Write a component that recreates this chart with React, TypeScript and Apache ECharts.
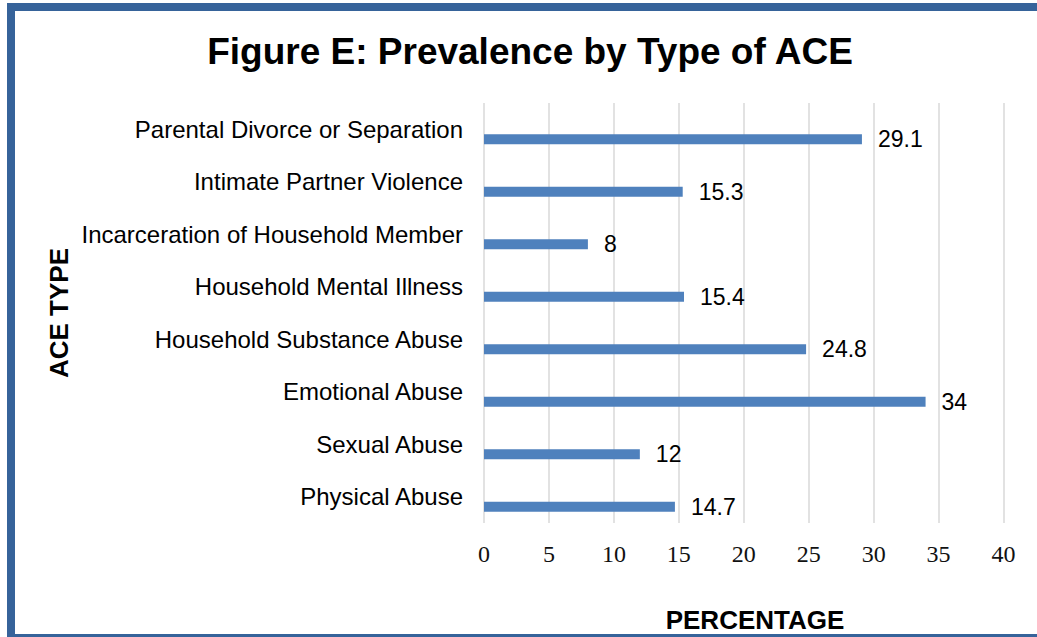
import React, { useEffect, useRef } from "react";
import * as echarts from "echarts";

const categories: string[] = [
  "Parental Divorce or Separation",
  "Intimate Partner Violence",
  "Incarceration of Household Member",
  "Household Mental Illness",
  "Household Substance Abuse",
  "Emotional Abuse",
  "Sexual Abuse",
  "Physical Abuse",
];
const values: number[] = [29.1, 15.3, 8, 15.4, 24.8, 34, 12, 14.7];
const xTicks = { min: 0, max: 40, interval: 5 };

const titleText = "Figure E: Prevalence by Type of ACE";
const xName = "PERCENTAGE";
const yName = "ACE TYPE";

const SANS = "'Liberation Sans', Arial, sans-serif";
const SERIF = "'Liberation Serif', 'Times New Roman', serif";

export default function App() {
  const ref = useRef<HTMLDivElement>(null);
  useEffect(() => {
    if (!ref.current) return;
    const chart = echarts.init(ref.current, undefined, { renderer: "svg" });
    chart.setOption({
      animation: false,
      backgroundColor: "#ffffff",
      title: {
        text: titleText,
        left: 525,
        top: 28,
        textAlign: "center",
        textStyle: { fontFamily: SANS, fontWeight: "bold", fontSize: 37, color: "#000" },
      },
      grid: { left: 484, right: 33.5, top: 103, bottom: 114, containLabel: false },
      xAxis: {
        type: "value",
        min: xTicks.min,
        max: xTicks.max,
        interval: xTicks.interval,
        axisLine: { show: false },
        axisTick: { show: false },
        splitLine: { show: true, lineStyle: { color: "#d9d9d9", width: 1.5 } },
        axisLabel: { fontFamily: SERIF, fontSize: 24, color: "#111", margin: 19 },
      },
      yAxis: {
        type: "category",
        data: categories,
        inverse: true,
        axisLine: { show: false },
        axisTick: { show: false },
        splitLine: { show: false },
        axisLabel: { fontFamily: SANS, fontSize: 24, color: "#000", margin: 21 },
      },
      series: [
        {
          type: "bar",
          data: categories.map(() => null),
          barWidth: 10,
          barGap: "100%",
          silent: true,
        },
        {
          type: "bar",
          data: values,
          barWidth: 10,
          barGap: "100%",
          itemStyle: { color: "#4f81bd" },
          label: {
            show: true,
            position: "right",
            distance: 16,
            fontFamily: SANS,
            fontSize: 23,
            color: "#000",
          },
        },
      ],
      graphic: [
        {
          type: "rect",
          shape: { x: 11, y: 7, width: 1100, height: 631 },
          style: { fill: "none", stroke: "#36639a", lineWidth: 8 },
          silent: true,
        },
        {
          type: "text",
          x: 59,
          y: 313,
          rotation: Math.PI / 2,
          style: {
            text: yName,
            fontFamily: SANS,
            fontWeight: "bold",
            fontSize: 26,
            fill: "#000",
            align: "center",
            verticalAlign: "middle",
          },
        },
        {
          type: "text",
          x: 755,
          y: 620,
          style: {
            text: xName,
            fontFamily: SANS,
            fontWeight: "bold",
            fontSize: 26,
            fill: "#000",
            align: "center",
            verticalAlign: "middle",
          },
        },
      ],
    });
    return () => chart.dispose();
  }, []);
  return (
    <div
      ref={ref}
      style={{ position: "absolute", left: 0, top: 0, width: 1037, height: 637 }}
    />
  );
}
